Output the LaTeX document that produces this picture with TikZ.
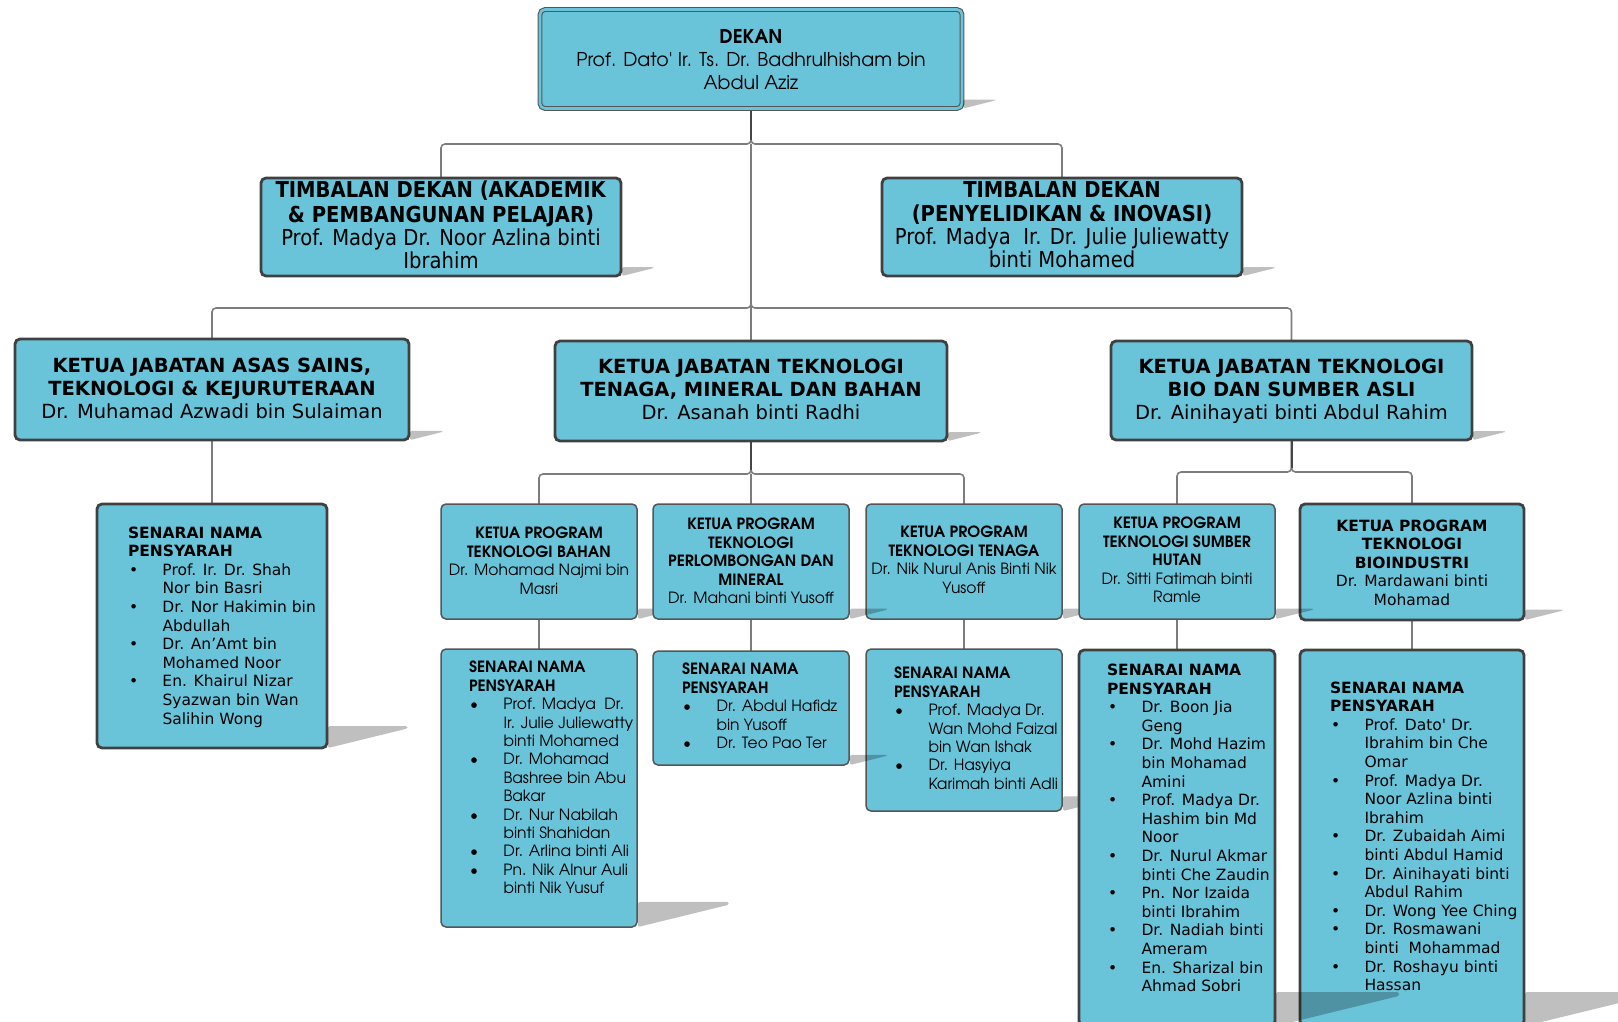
\documentclass[tikz,border=0pt]{standalone}
\usepackage{fontspec}
\usetikzlibrary{backgrounds}
\setmainfont{DejaVu Sans}
\newfontfamily\vf{DejaVu Sans}
\newfontfamily\vc[FakeStretch=0.89]{DejaVu Sans}
\newfontfamily\gf{TeX Gyre Adventor}
\definecolor{boxfill}{RGB}{105,196,218}
\definecolor{boxline}{RGB}{64,64,64}
\definecolor{boxlinethin}{RGB}{85,85,85}
\definecolor{connA}{RGB}{70,70,70}
\definecolor{connB}{RGB}{125,125,125}
\tikzset{
 box/.style={draw=boxline, fill=boxfill, rounded corners=5pt, line width=2pt, inner sep=0pt, outer sep=0pt},
 boxthin/.style={box, line width=1.5pt, draw=boxlinethin},
 boxthick/.style={box, line width=2.8pt},
 boxdouble/.style={box, line width=1.1pt, draw=boxlinethin, double=boxfill, double distance=2.6pt},
 txt/.style={inner sep=0pt, outer sep=0pt, align=center, anchor=north},
 ltxt/.style={inner sep=0pt, outer sep=0pt, align=left, anchor=north west},
 stub/.style={draw=connA, line width=2pt},
 link/.style={draw=connB, line width=1.6pt, rounded corners=4pt},
 shade/.style={fill=black, fill opacity=0.25},
}
% style, name, left, top, right, bottom : box followed by its cast shadow
\newcommand\orgbox[6]{%
 \node[#1, minimum width={#5-#3}, minimum height={#6-#4}] (#2) at ({(#3+#5)/2},{(#4+#6)/2}) {};
 \fill[shade, rounded corners=1.5pt] ({#5+1},{#6-0.09*(#6-#4)}) -- ({#5+0.33*(#6-#4)},{#6-0.09*(#6-#4)}) -- ({#5+0.33*(#6-#4)},{#6-0.08*(#6-#4)}) -- ({#5+1},#6) -- cycle;}
\newcommand\bi{\makebox[34.5pt][l]{\hspace{1pt}\textbullet}}
\newcommand\bc{\hspace*{34.5pt}}
\begin{document}
\begin{tikzpicture}[x=1pt,y=-1pt]
\useasboundingbox (0,0) rectangle (1618,1021);
% ---- boxes with shadows, in stacking order ----
\orgbox{boxdouble}{dekan}{540}{9.5}{962}{108.5}
\orgbox{boxthick}{t1}{261}{178}{621}{276}
\orgbox{boxthick}{t2}{882}{178}{1242}{276}
\orgbox{boxthick}{kja}{15}{339}{409}{440}
\orgbox{boxthick}{kjt}{555}{341}{947}{441}
\orgbox{boxthick}{kjb}{1111}{341}{1472}{440}
\orgbox{boxthick}{sa}{97}{504}{327}{748}
\orgbox{boxthin}{kpb}{441}{504}{637}{619}
\orgbox{boxthin}{kpt}{866}{504}{1062}{619}
\orgbox{boxthin}{kpp}{653}{504}{849}{619}
\orgbox{boxthick}{kpbi}{1300}{504}{1524}{620}
\orgbox{boxthin}{kph}{1079}{504}{1275}{619}
\orgbox{boxthin}{sb}{441}{649}{637}{927}
\orgbox{boxthin}{st}{866}{649}{1062}{811}
\orgbox{boxthin}{sp}{653}{651}{849}{765}
\orgbox{boxthick}{sbi}{1300}{650}{1524}{1026}
\orgbox{boxthick}{sh}{1079}{650}{1275}{1026}
% ---- connectors (behind the boxes) ----
\coordinate (j1) at (751,144);
\coordinate (j2) at (751,308);
\coordinate (j3) at (751,474);
\coordinate (j4) at (1291.5,472);
\begin{pgfonlayer}{background}
\draw[link] (dekan.south) -- (j1) -| (t1.north);
\draw[link] (dekan.south) -- (j1) -| (t2.north);
\draw[link] (j1) -- (kjt.north);
\draw[link] (j1) -- (j2) -| (kja.north);
\draw[link] (j1) -- (j2) -| (kjb.north);
\draw[stub] (dekan.south) -- ([yshift=4pt]j1);
\draw[link] (kjt.south) -- (j3) -| (kpb.north);
\draw[link] (kjt.south) -- (j3) -| (kpt.north);
\draw[link] (j3) -- (kpp.north);
\draw[stub] (kjt.south) -- ([yshift=4pt]j3);
\draw[link] (kjb.south) -- (j4) -| (kph.north);
\draw[link] (kjb.south) -- (j4) -| (kpbi.north);
\draw[stub] (kjb.south) -- ([yshift=4pt]j4);
\draw[link] (kja.south) -- (sa.north);
\draw[link] (kpb.south) -- (sb.north);
\draw[link] (kpp.south) -- (sp.north);
\draw[link] (kpt.south) -- (st.north);
\draw[link] (kph.south) -- (sh.north);
\draw[link] (kpbi.south) -- (sbi.north);
\end{pgfonlayer}
% ---- texts ----
\node[txt, font=\gf\fontsize{19}{23}\selectfont] (dekanT) at (751,27) {\strut\textbf{DEKAN}\\Prof. Dato' Ir. Ts. Dr. Badhrulhisham bin\\Abdul Aziz};
\node[txt, font=\vc\fontsize{22}{23}\selectfont] (t1T) at (441,181) {\strut\textbf{TIMBALAN DEKAN (AKADEMIK}\\\textbf{\& PEMBANGUNAN PELAJAR)}\\Prof. Madya Dr. Noor Azlina binti\\Ibrahim};
\node[txt, font=\vc\fontsize{22}{23}\selectfont] (t2T) at (1062,181) {\strut\textbf{TIMBALAN DEKAN}\\\textbf{(PENYELIDIKAN \& INOVASI)}\\Prof. Madya\ \ Ir. Dr. Julie Juliewatty\\binti Mohamed};
\node[txt, font=\vf\fontsize{19.5}{23}\selectfont] (kjaT) at (212,356) {\strut\textbf{KETUA JABATAN ASAS SAINS,}\\\textbf{TEKNOLOGI \& KEJURUTERAAN}\\Dr. Muhamad Azwadi bin Sulaiman};
\node[txt, font=\vf\fontsize{19.5}{23}\selectfont] (kjtT) at (751,357) {\strut\textbf{KETUA JABATAN TEKNOLOGI}\\\textbf{TENAGA, MINERAL DAN BAHAN}\\Dr. Asanah binti Radhi};
\node[txt, font=\vf\fontsize{19.5}{23}\selectfont] (kjbT) at (1291.5,357) {\strut\textbf{KETUA JABATAN TEKNOLOGI}\\\textbf{BIO DAN SUMBER ASLI}\\Dr. Ainihayati binti Abdul Rahim};
\node[ltxt, font=\vf\fontsize{15.5}{18.6}\selectfont] (saT) at (128,525) {\strut\textbf{SENARAI NAMA}\\\textbf{PENSYARAH}\\\bi Prof. Ir. Dr. Shah\\\bc Nor bin Basri\\\bi Dr. Nor Hakimin bin\\\bc Abdullah\\\bi Dr. An’Amt bin\\\bc Mohamed Noor\\\bi En. Khairul Nizar\\\bc Syazwan bin Wan\\\bc Salihin Wong};
\node[txt, font=\gf\fontsize{15.5}{18.4}\selectfont] (kpbT) at (539,526) {\strut\textbf{KETUA PROGRAM}\\\textbf{TEKNOLOGI BAHAN}\\Dr. Mohamad Najmi bin\\Masri};
\node[txt, font=\gf\fontsize{15.5}{18.4}\selectfont] (kppT) at (751,517) {\strut\textbf{KETUA PROGRAM}\\\textbf{TEKNOLOGI}\\\textbf{PERLOMBONGAN DAN}\\\textbf{MINERAL}\\Dr. Mahani binti Yusoff};
\node[txt, font=\gf\fontsize{15.5}{18.4}\selectfont] (kptT) at (964,525) {\strut\textbf{KETUA PROGRAM}\\\textbf{TEKNOLOGI TENAGA}\\Dr. Nik Nurul Anis Binti Nik\\Yusoff};
\node[txt, font=\gf\fontsize{15.5}{18.4}\selectfont] (kphT) at (1177,516) {\strut\textbf{KETUA PROGRAM}\\\textbf{TEKNOLOGI SUMBER}\\\textbf{HUTAN}\\Dr. Sitti Fatimah binti\\Ramle};
\node[txt, font=\vf\fontsize{15.5}{18.6}\selectfont] (kpbiT) at (1412,518) {\strut\textbf{KETUA PROGRAM}\\\textbf{TEKNOLOGI}\\\textbf{BIOINDUSTRI}\\Dr. Mardawani binti\\Mohamad};
\node[ltxt, font=\gf\fontsize{15.5}{18.4}\selectfont] (sbT) at (469,660) {\strut\textbf{SENARAI NAMA}\\\textbf{PENSYARAH}\\\bi Prof. Madya\ \ Dr.\\\bc Ir. Julie Juliewatty\\\bc binti Mohamed\\\bi Dr. Mohamad\\\bc Bashree bin Abu\\\bc Bakar\\\bi Dr. Nur Nabilah\\\bc binti Shahidan\\\bi Dr. Arlina binti Ali\\\bi Pn. Nik Alnur Auli\\\bc binti Nik Yusuf};
\node[ltxt, font=\gf\fontsize{15.5}{18.4}\selectfont] (spT) at (682,662) {\strut\textbf{SENARAI NAMA}\\\textbf{PENSYARAH}\\\bi Dr. Abdul Hafidz\\\bc bin Yusoff\\\bi Dr. Teo Pao Ter};
\node[ltxt, font=\gf\fontsize{15.5}{18.4}\selectfont] (stT) at (894,666) {\strut\textbf{SENARAI NAMA}\\\textbf{PENSYARAH}\\\bi Prof. Madya Dr.\\\bc Wan Mohd Faizal\\\bc bin Wan Ishak\\\bi Dr. Hasyiya\\\bc Karimah binti Adli};
\node[ltxt, font=\vf\fontsize{15.5}{18.6}\selectfont] (shT) at (1107,662.5) {\strut\textbf{SENARAI NAMA}\\\textbf{PENSYARAH}\\\bi Dr. Boon Jia\\\bc Geng\\\bi Dr. Mohd Hazim\\\bc bin Mohamad\\\bc Amini\\\bi Prof. Madya Dr.\\\bc Hashim bin Md\\\bc Noor\\\bi Dr. Nurul Akmar\\\bc binti Che Zaudin\\\bi Pn. Nor Izaida\\\bc binti Ibrahim\\\bi Dr. Nadiah binti\\\bc Ameram\\\bi En. Sharizal bin\\\bc Ahmad Sobri};
\node[ltxt, font=\vf\fontsize{15.5}{18.6}\selectfont] (sbiT) at (1330,680) {\strut\textbf{SENARAI NAMA}\\\textbf{PENSYARAH}\\\bi Prof. Dato' Dr.\\\bc Ibrahim bin Che\\\bc Omar\\\bi Prof. Madya Dr.\\\bc Noor Azlina binti\\\bc Ibrahim\\\bi Dr. Zubaidah Aimi\\\bc binti Abdul Hamid\\\bi Dr. Ainihayati binti\\\bc Abdul Rahim\\\bi Dr. Wong Yee Ching\\\bi Dr. Rosmawani\\\bc binti\ \ Mohammad\\\bi Dr. Roshayu binti\\\bc Hassan};
\end{tikzpicture}
\end{document}
